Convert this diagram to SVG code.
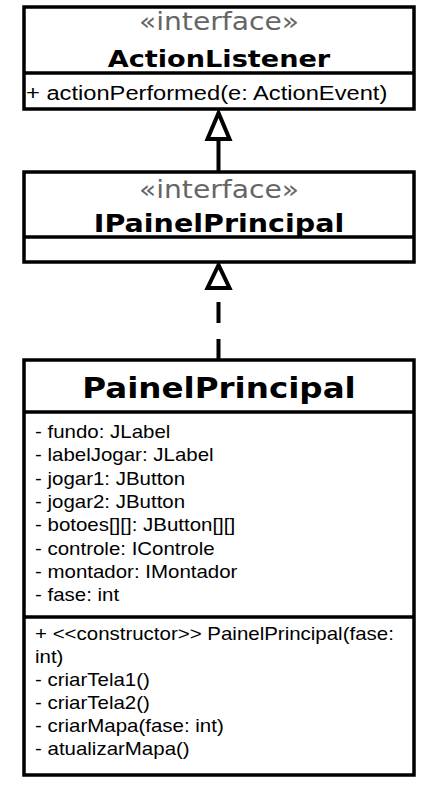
<svg xmlns="http://www.w3.org/2000/svg" width="439" height="803" viewBox="0 0 439 803">
<style>
.box{fill:#fff;stroke:#000;stroke-width:3.5}
.div{stroke:#000;stroke-width:3.5}
.st{font-family:"DejaVu Sans",Verdana,sans-serif;font-size:24.5px;fill:#666;text-anchor:middle}
.nm{font-family:"DejaVu Sans",Verdana,sans-serif;font-weight:bold;fill:#000;text-anchor:middle}
.tx{font-family:"Liberation Sans",Arial,sans-serif;font-size:17.8px;fill:#000}
.ln{stroke:#000;stroke-width:4;fill:none}
.hd{fill:#fff;stroke:#000;stroke-width:4;stroke-linejoin:miter}
</style>
<rect width="439" height="803" fill="#fff"/>
<g id="connectors">
  <line class="ln" x1="218.5" y1="172" x2="218.5" y2="138"/>
  <polygon class="hd" points="218.5,113 207.5,139 229.5,139"/>
  <line class="ln" x1="218.5" y1="360" x2="218.5" y2="288" stroke-dasharray="21 16"/>
  <polygon class="hd" points="218.5,265 207.5,288 229.5,288"/>
</g>
<g id="ActionListener">
  <rect class="box" x="24" y="7" width="390" height="102"/>
  <line class="div" x1="24" y1="73" x2="414" y2="73"/>
  <text class="st" transform="translate(219,30) scale(1.15,1)">«interface»</text>
  <text class="nm" style="font-size:23.6px" transform="translate(219,66.5) scale(1.15,1)">ActionListener</text>
  <text class="tx" style="font-size:20.6px" transform="translate(26,100) scale(1.15,1)">+ actionPerformed(e: ActionEvent)</text>
</g>
<g id="IPainelPrincipal">
  <rect class="box" x="24" y="172" width="390" height="90"/>
  <line class="div" x1="24" y1="237" x2="414" y2="237"/>
  <text class="st" transform="translate(219,198) scale(1.15,1)">«interface»</text>
  <text class="nm" style="font-size:24.8px" transform="translate(219,232) scale(1.15,1)">IPainelPrincipal</text>
</g>
<g id="PainelPrincipal">
  <rect class="box" x="24" y="360" width="390" height="415"/>
  <line class="div" x1="24" y1="412" x2="414" y2="412"/>
  <line class="div" x1="24" y1="617" x2="414" y2="617"/>
  <text class="nm" style="font-size:28.3px" transform="translate(219,398) scale(1.15,1)">PainelPrincipal</text>
  <text class="tx" transform="translate(35,438) scale(1.15,1)">- fundo: JLabel</text>
  <text class="tx" transform="translate(35,461.3) scale(1.15,1)">- labelJogar: JLabel</text>
  <text class="tx" transform="translate(35,484.6) scale(1.15,1)">- jogar1: JButton</text>
  <text class="tx" transform="translate(35,507.9) scale(1.15,1)">- jogar2: JButton</text>
  <text class="tx" transform="translate(35,531.2) scale(1.15,1)">- botoes[][]: JButton[][]</text>
  <text class="tx" transform="translate(35,554.5) scale(1.15,1)">- controle: IControle</text>
  <text class="tx" transform="translate(35,577.8) scale(1.15,1)">- montador: IMontador</text>
  <text class="tx" transform="translate(35,601.1) scale(1.15,1)">- fase: int</text>
  <text class="tx" transform="translate(35,640) scale(1.15,1)">+ &lt;&lt;constructor&gt;&gt; PainelPrincipal(fase:</text>
  <text class="tx" transform="translate(35,663) scale(1.15,1)">int)</text>
  <text class="tx" transform="translate(35,686) scale(1.15,1)">- criarTela1()</text>
  <text class="tx" transform="translate(35,709) scale(1.15,1)">- criarTela2()</text>
  <text class="tx" transform="translate(35,732) scale(1.15,1)">- criarMapa(fase: int)</text>
  <text class="tx" transform="translate(35,755) scale(1.15,1)">- atualizarMapa()</text>
</g>
</svg>
